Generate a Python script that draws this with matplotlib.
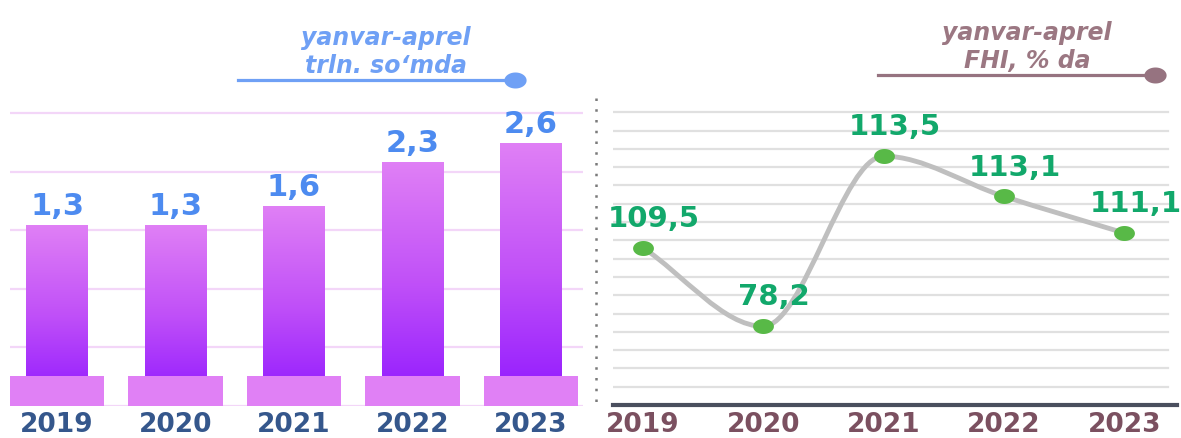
import numpy as np
import matplotlib
matplotlib.use('Agg')
import matplotlib.pyplot as plt
from matplotlib.path import Path
from matplotlib.patches import PathPatch
from matplotlib.lines import Line2D
from matplotlib.colors import LinearSegmentedColormap

# data
years = ['2019', '2020', '2021', '2022', '2023']
trln_vals = [1.3, 1.3, 1.6, 2.3, 2.6]          # yanvar-aprel, trln. so'mda
fhi_vals = [109.5, 78.2, 113.5, 113.1, 111.1]  # yanvar-aprel, FHI % da
# height of each point as drawn in the reference (in gridline steps above the axis)
fhi_level = [8.6, 4.3, 13.6, 11.4, 9.4]

W, H = 1181, 438
fig = plt.figure(figsize=(W / 100, H / 100), dpi=100)


def px(x, y):
    return x / W, 1 - y / H


# ellipse marker (the original picture is stretched sideways)
t = np.linspace(0, 2 * np.pi, 60)
ellipse = Path(np.column_stack([np.cos(t), 0.72 * np.sin(t)]), closed=True)

# ---------- left: bars ----------
ax1 = fig.add_axes([10 / W, 1 - 406 / H, 573 / W, 306 / H])
ymin = -1.57
ax1.set_xlim(-0.397, 4.439)
ax1.set_ylim(ymin, ymin + 4.85)
x = np.arange(len(years))

grid1 = ymin + 0.9287 * np.arange(6)
for g in grid1:
    ax1.axhline(g, color='#F3D6F8', lw=1.6, zorder=0)

vals = np.array(trln_vals)
bars = ax1.bar(x, vals - ymin, bottom=ymin, width=0.523, color='none', zorder=2)
cmap = LinearSegmentedColormap.from_list('bar', ['#8F17FF', '#C050F8', '#E080F5'])
grad = np.linspace(0, 1, 256).reshape(-1, 1)
for b in bars:
    x0, y0 = b.get_x(), b.get_y()
    im = ax1.imshow(grad, extent=[x0, x0 + b.get_width(), y0, y0 + b.get_height()],
                    origin='lower', aspect='auto', cmap=cmap, zorder=2)
    im.set_clip_path(b)
ax1.set_xlim(-0.397, 4.439)
ax1.set_ylim(ymin, ymin + 4.85)

# pink stands at the foot of each bar
ax1.bar(x, [0.475] * len(x), bottom=ymin, width=0.80, color='#E080F5', zorder=3)

for xi, v in zip(x, trln_vals):
    ax1.annotate(str(v).replace('.', ','), (xi, v), xytext=(0, 7),
                 textcoords='offset points', ha='center', va='baseline',
                 fontsize=22, fontweight='bold', color='#4D8BF0')

ax1.set_xticks(x, years)
ax1.set_yticks([])
ax1.tick_params(axis='x', length=0, pad=4, labelsize=19, labelcolor='#35578C')
for lab in ax1.get_xticklabels():
    lab.set_fontweight('bold')
for s in ax1.spines.values():
    s.set_visible(False)
ax1.patch.set_alpha(0)

# ---------- right: smooth line ----------
ax2 = fig.add_axes([613 / W, 1 - 405 / H, 564 / W, 305 / H])
ax2.set_xlim(-0.248, 4.438)
ax2.set_ylim(0, 16.67)

for g in range(1, 17):
    ax2.axhline(g, xmax=0.984, color='#E0E0E0', lw=1.6, zorder=0)
ax2.axhline(0, color='#4A4F5E', lw=3, zorder=1, clip_on=False)

P = np.column_stack([x, fhi_level]).astype(float)
n = len(P)
m = np.zeros_like(P)
for i in range(n):
    if i == 0:
        m[i] = P[1] - P[0]
    elif i == n - 1:
        m[i] = P[-1] - P[-2]
    else:
        m[i] = (P[i + 1] - P[i - 1]) / 2
        if (P[i, 1] - P[i - 1, 1]) * (P[i + 1, 1] - P[i, 1]) < 0:
            m[i, 1] = 0
verts = [P[0]]
codes = [Path.MOVETO]
for i in range(n - 1):
    verts += [P[i] + m[i] / 3, P[i + 1] - m[i + 1] / 3, P[i + 1]]
    codes += [Path.CURVE4] * 3
ax2.add_patch(PathPatch(Path(verts, codes), fill=False, edgecolor='#BFBFBF',
                        lw=3.5, zorder=2, capstyle='round'))
ax2.plot(x, fhi_level, ls='none', marker=ellipse, markersize=15,
         color='#58B947', markeredgewidth=0, zorder=3)

for xi, lv, v in zip(x, fhi_level, fhi_vals):
    ax2.annotate(str(v).replace('.', ','), (xi, lv), xytext=(8, 15),
                 textcoords='offset points', ha='center', va='baseline',
                 fontsize=21, fontweight='bold', color='#12A86B',
                 annotation_clip=False)

ax2.set_xticks(x, years)
ax2.set_yticks([])
ax2.tick_params(axis='x', length=0, pad=5, labelsize=19, labelcolor='#7B5060')
for lab in ax2.get_xticklabels():
    lab.set_fontweight('bold')
for s in ax2.spines.values():
    s.set_visible(False)
ax2.patch.set_alpha(0)

# ---------- divider and titles ----------
fig.add_artist(Line2D([596 / W, 596 / W], [1 - 98 / H, 1 - 408 / H],
                      transform=fig.transFigure, color='#7A7A7A', lw=1.8,
                      ls=(0, (1, 3.3))))

tx, ty = px(386, 45)
fig.text(tx, ty, 'yanvar-aprel', ha='center', va='baseline', fontsize=17,
         fontstyle='italic', fontweight='bold', color='#6FA0F5')
tx, ty = px(386, 73)
fig.text(tx, ty, 'trln. so‘mda', ha='center', va='baseline', fontsize=17,
         fontstyle='italic', fontweight='bold', color='#6FA0F5')
fig.add_artist(Line2D([238 / W, 515 / W], [1 - 80 / H] * 2, transform=fig.transFigure,
                      color='#6FA0F5', lw=2.3, marker=ellipse, markevery=[1],
                      markersize=16, markeredgewidth=0))

tx, ty = px(1027, 40)
fig.text(tx, ty, 'yanvar-aprel', ha='center', va='baseline', fontsize=17,
         fontstyle='italic', fontweight='bold', color='#9B7782')
tx, ty = px(1027, 68)
fig.text(tx, ty, 'FHI, % da', ha='center', va='baseline', fontsize=17,
         fontstyle='italic', fontweight='bold', color='#9B7782')
fig.add_artist(Line2D([878 / W, 1155 / W], [1 - 75 / H] * 2, transform=fig.transFigure,
                      color='#967380', lw=2.3, marker=ellipse, markevery=[1],
                      markersize=16, markeredgewidth=0))

fig.savefig('out.png', dpi=100)
